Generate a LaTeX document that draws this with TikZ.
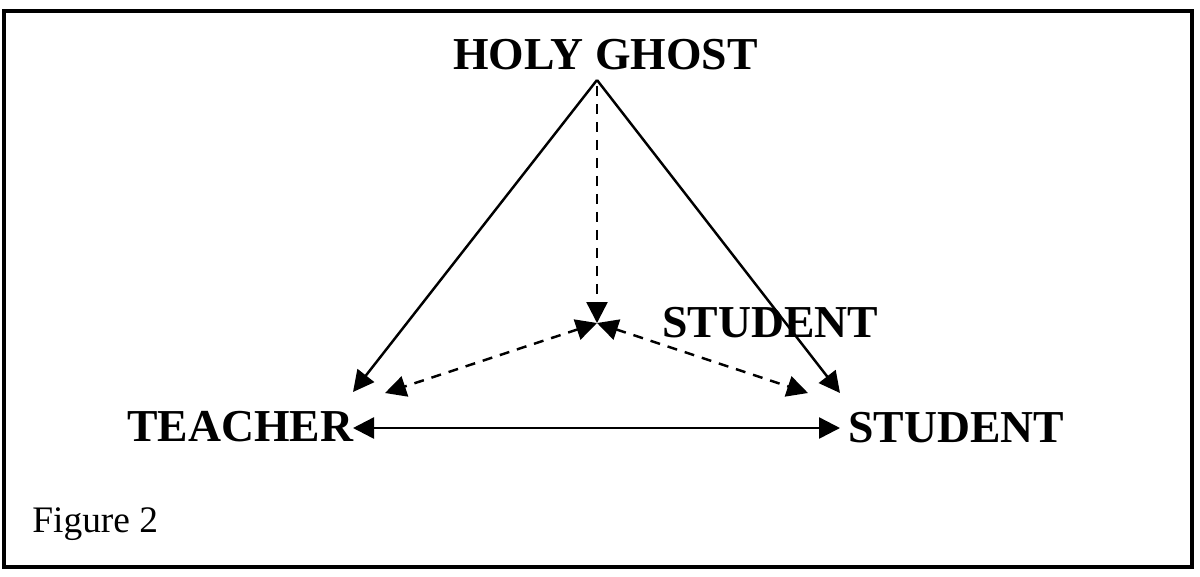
\documentclass[tikz,border=0pt]{standalone}
\usepackage{fontspec}
\setmainfont{Liberation Serif}
\usetikzlibrary{arrows.meta}
\begin{document}
\begin{tikzpicture}[x=0.02cm,y=-0.02cm,
  lbl/.style={inner sep=0pt,anchor=base west,font=\fontsize{26}{30}\selectfont\bfseries},
  figcap/.style={inner sep=0pt,anchor=base west,font=\fontsize{21.3}{25}\selectfont},
  onehead/.style={-{Triangle[length=0.42cm,width=0.42cm]}},
  twoheads/.style={{Triangle[length=0.42cm,width=0.42cm]}-{Triangle[length=0.42cm,width=0.42cm]}},
  conn/.style={line width=1.4pt},
  dconn/.style={line width=1.4pt,dash pattern=on 0.2cm off 0.16cm}]
\useasboundingbox (0,0) rectangle (1200,576);
\draw[line width=1.8pt] (4,11) rectangle (1192,567);
\node[lbl] (holy) at (453,69) {HOLY GHOST};
\node[lbl] (teacher) at (127,441) {TEACHER};
\node[lbl] (student) at (848,442) {STUDENT};
\node[lbl] (student2) at (662,337) {STUDENT};
\node[figcap] (fig) at (32,532) {Figure 2};
\coordinate (apex) at (597,80);
\coordinate (apexd) at (597,86);
\coordinate (c) at (597,323);
\coordinate (tR) at (353,392);
\coordinate (sR) at (840,393);
\coordinate (tD) at (385,393);
\coordinate (sD) at (808,393);
\coordinate (tH) at (353,428);
\coordinate (sH) at (840,428);
\draw[conn,onehead] (apex) -- (tR);
\draw[conn,onehead] (apex) -- (sR);
\draw[dconn,onehead] (apexd) -- (c);
\draw[dconn,twoheads] (c) -- (tD);
\draw[dconn,twoheads] (c) -- (sD);
\draw[conn,twoheads] (tH) -- (sH);
\end{tikzpicture}
\end{document}
